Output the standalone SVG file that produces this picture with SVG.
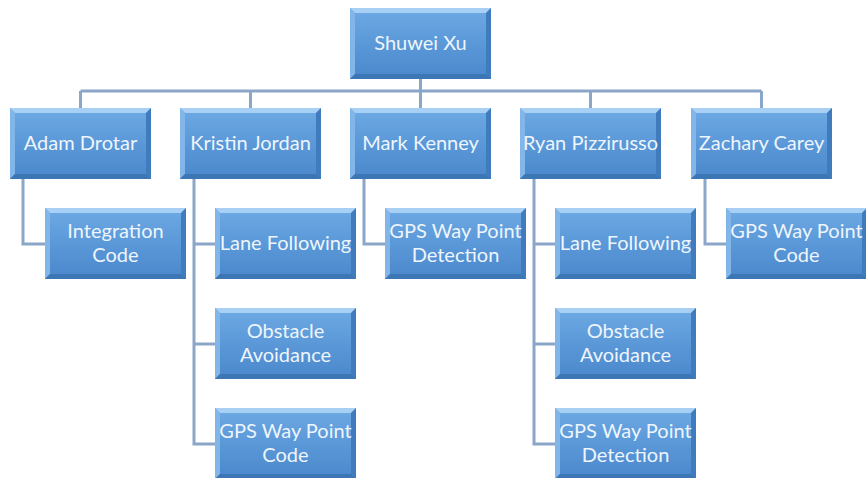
<svg xmlns="http://www.w3.org/2000/svg" xmlns:xlink="http://www.w3.org/1999/xlink" width="866" height="478" viewBox="0 0 866 478">
<defs>
<linearGradient id="g" x1="0" y1="0" x2="0" y2="1">
<stop offset="0" stop-color="#6eaae3"/>
<stop offset="0.5" stop-color="#5a98d8"/>
<stop offset="1" stop-color="#4a88cc"/>
</linearGradient>
<g id="box">
<rect x="0" y="0" width="141" height="71" fill="url(#g)"/>
<polygon points="0,0 141,0 136,5 5,5" fill="#a8d0f4"/>
<polygon points="0,0 5,5 5,66 0,71" fill="#83b6e8"/>
<polygon points="141,0 141,71 136,66 136,5" fill="#3f7bbd"/>
<polygon points="0,71 5,66 136,66 141,71" fill="#3d76b4"/>
</g>
<style>
.c{fill:none;stroke:#8aa6c9;stroke-width:3}
text{font-family:Lato,"Liberation Sans",sans-serif;font-size:20px;fill:#eef5fc;text-anchor:middle}
</style>
</defs>
<rect width="866" height="478" fill="#ffffff"/>
<g id="connectors">
<path class="c" d="M420.5 79V91M80.5 91H761.5M80.5 91V108M250.5 91V108M420.5 91V108M590.5 91V108M761.5 91V108"/>
<path class="c" d="M23 179V244H45"/>
<path class="c" d="M194 179V444H215M194 244H215M194 344H215"/>
<path class="c" d="M364 179V244H385"/>
<path class="c" d="M534 179V444H555M534 244H555M534 344H555"/>
<path class="c" d="M705 179V244H726"/>
</g>
<g id="n0"><use xlink:href="#box" x="350" y="8"/><text x="420.5" y="50">Shuwei Xu</text></g>
<g id="n1"><use xlink:href="#box" x="10" y="108"/><text x="80.5" y="150">Adam Drotar</text></g>
<g id="n2"><use xlink:href="#box" x="180" y="108"/><text x="250.5" y="150">Kristin Jordan</text></g>
<g id="n3"><use xlink:href="#box" x="350" y="108"/><text x="420.5" y="150">Mark Kenney</text></g>
<g id="n4"><use xlink:href="#box" x="520" y="108"/><text x="590.5" y="150">Ryan Pizzirusso</text></g>
<g id="n5"><use xlink:href="#box" x="691" y="108"/><text x="761.5" y="150">Zachary Carey</text></g>
<g id="n6"><use xlink:href="#box" x="45" y="208"/><text x="115.5" y="238">Integration</text><text x="115.5" y="262">Code</text></g>
<g id="n7"><use xlink:href="#box" x="215" y="208"/><text x="285.5" y="250">Lane Following</text></g>
<g id="n8"><use xlink:href="#box" x="215" y="308"/><text x="285.5" y="338">Obstacle</text><text x="285.5" y="362">Avoidance</text></g>
<g id="n9"><use xlink:href="#box" x="215" y="408"/><text x="285.5" y="438">GPS Way Point</text><text x="285.5" y="462">Code</text></g>
<g id="n10"><use xlink:href="#box" x="385" y="208"/><text x="455.5" y="238">GPS Way Point</text><text x="455.5" y="262">Detection</text></g>
<g id="n11"><use xlink:href="#box" x="555" y="208"/><text x="625.5" y="250">Lane Following</text></g>
<g id="n12"><use xlink:href="#box" x="555" y="308"/><text x="625.5" y="338">Obstacle</text><text x="625.5" y="362">Avoidance</text></g>
<g id="n13"><use xlink:href="#box" x="555" y="408"/><text x="625.5" y="438">GPS Way Point</text><text x="625.5" y="462">Detection</text></g>
<g id="n14"><use xlink:href="#box" x="726" y="208"/><text x="796.5" y="238">GPS Way Point</text><text x="796.5" y="262">Code</text></g>
</svg>
